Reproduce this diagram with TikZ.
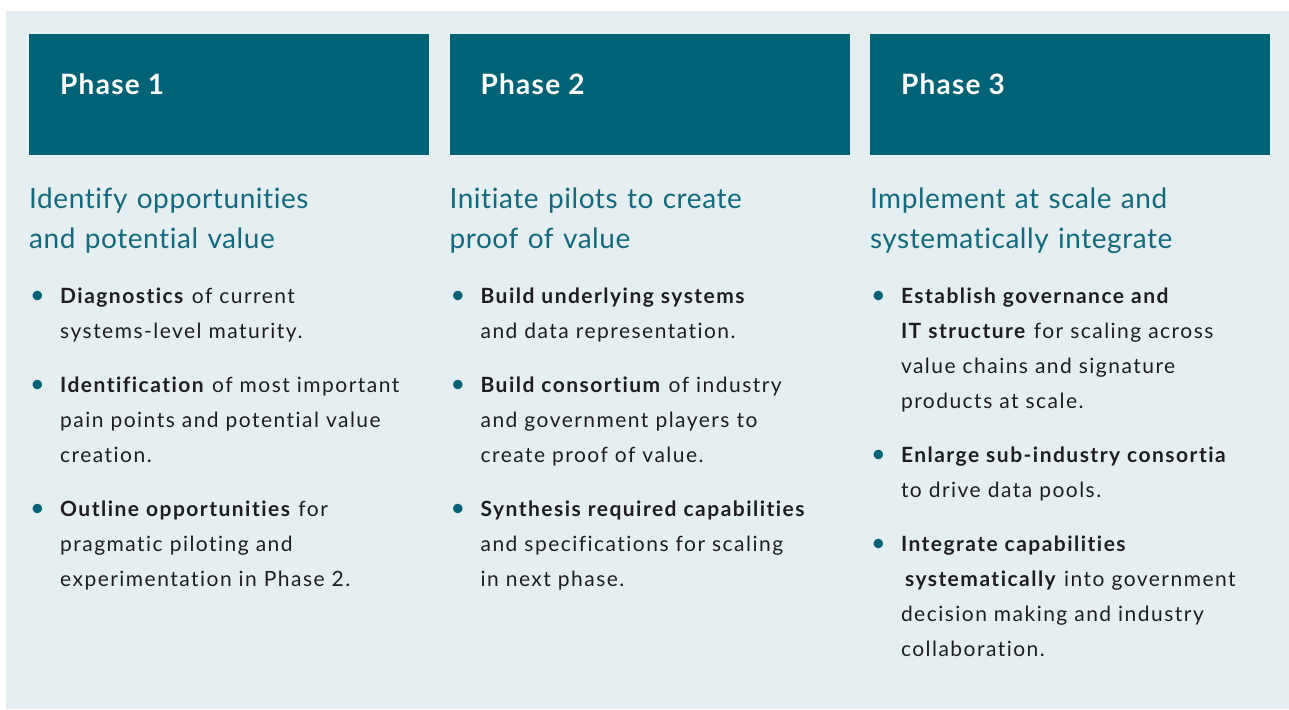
\documentclass[tikz,border=0pt]{standalone}
\usepackage{fontspec}
\setmainfont{Lato}
\newfontfamily\phasefont{Lato}[LetterSpace=4.5, Ligatures=NoCommon]
\newfontfamily\aimfont{Lato}[LetterSpace=2, Ligatures=NoCommon]
\newfontfamily\stepfont{Lato}[LetterSpace=7, Ligatures=NoCommon]
\usetikzlibrary{positioning}

\definecolor{panel}{RGB}{229,238,241}
\definecolor{phaseteal}{RGB}{0,99,117}
\definecolor{aimteal}{RGB}{20,106,124}
\definecolor{bodyblack}{RGB}{30,30,30}

% one bullet point, hanging indent for the follow-on lines
\newcommand{\bitem}[1]{\noindent\hangindent=31pt\hangafter=1%
  \makebox[31pt][l]{\hspace{1pt}\textcolor{phaseteal}{\scalebox{1.2}{\textbullet}}}#1\par}

\begin{document}
\begin{tikzpicture}[
    x=1pt, y=-1pt,
    phase/.style={rectangle, fill=phaseteal, minimum width=400pt, minimum height=121pt, inner sep=0pt, anchor=north west},
    phasename/.style={font=\fontsize{28pt}{32pt}\phasefont\bfseries, text=white, inner sep=0pt, anchor=base west},
    aim/.style={font=\fontsize{28pt}{40pt}\aimfont, text=aimteal, text width=395pt, align=left, inner sep=0pt, anchor=base west},
    steps/.style={font=\fontsize{21pt}{35pt}\stepfont, text=bodyblack, text width=395pt, align=left, inner sep=0pt, anchor=base west}
]
\useasboundingbox (0,0) rectangle (1289,709);
\fill[panel] (6,11) rectangle (1289,709);

% Phase headers
\node[phase] (p1) at (29,34) {};
\node[phase, right=20pt of p1] (p2) {};
\node[phase, right=20pt of p2] (p3) {};

\node[phasename] (p1-name) at ([shift={(31pt,-60pt)}]p1.north west) {Phase 1};
\node[phasename] (p2-name) at ([shift={(31pt,-60pt)}]p2.north west) {Phase 2};
\node[phasename] (p3-name) at ([shift={(31pt,-60pt)}]p3.north west) {Phase 3};

% Aims
\node[aim] (p1-aim) at ([yshift=-174pt]p1.north west) {Identify opportunities\\and potential value};
\node[aim] (p2-aim) at ([yshift=-174pt]p2.north west) {Initiate pilots to create\\proof of value};
\node[aim] (p3-aim) at ([yshift=-174pt]p3.north west) {Implement at scale and\\systematically integrate};

% Steps
\node[steps] (p1-steps) at ([yshift=-269pt]p1.north west) {\parskip=19pt
  \bitem{\textbf{Diagnostics} of current\newline systems-level maturity.}
  \bitem{\textbf{Identification} of most important\newline pain points and potential value\newline creation.}
  \bitem{\textbf{Outline opportunities} for\newline pragmatic piloting and\newline experimentation in Phase 2.}};
\node[steps] (p2-steps) at ([yshift=-269pt]p2.north west) {\parskip=19pt
  \bitem{\textbf{Build underlying systems}\newline and data representation.}
  \bitem{\textbf{Build consortium} of industry\newline and government players to\newline create proof of value.}
  \bitem{\textbf{Synthesis required capabilities}\newline and specifications for scaling\newline in next phase.}};
\node[steps] (p3-steps) at ([yshift=-269pt]p3.north west) {\parskip=19pt
  \bitem{\textbf{Establish governance and}\newline \textbf{IT structure} for scaling across\newline value chains and signature\newline products at scale.}
  \bitem{\textbf{Enlarge sub-industry consortia}\newline to drive data pools.}
  \bitem{\textbf{Integrate capabilities}\newline \hspace*{4pt}\textbf{systematically} into government\newline decision making and industry\newline collaboration.}};
\end{tikzpicture}
\end{document}
